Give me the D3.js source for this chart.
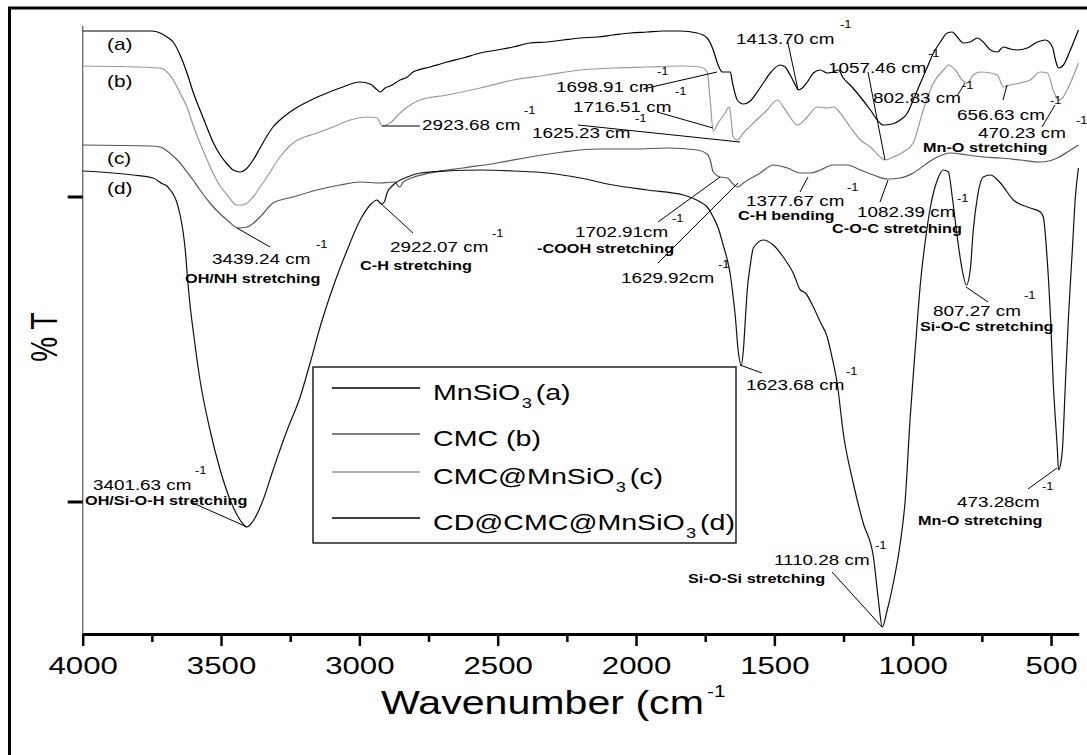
<!DOCTYPE html>
<html lang="en">
<head>
<meta charset="UTF-8">
<title>FTIR spectra</title>
<script src="https://d3js.org/d3.v7.min.js"></script>
<style>
  body { margin: 0; background: #fff; }
  svg { display: block; font-family: "Liberation Sans", Arial, sans-serif; }
</style>
</head>
<body>
<div id="viz"></div>
<script>
// spectra: [wavenumber (cm-1), %T in arbitrary units]
var specA = [[4000,603],[3865,603],[3749,603],[3720,601],[3695,597],[3673,592],[3648,579],[3623,561],[3601,542],[3576,524],[3550,506],[3529,492],[3503,479],[3478,470],[3456,464],[3431,462],[3409,465],[3384,474],[3359,486],[3334,498],[3312,507],[3287,514],[3240,524],[3167,535],[3117,541],[3070,546],[2997,552],[2961,550],[2939,545],[2925,542],[2907,546],[2889,548],[2853,554],[2827,557],[2806,562],[2744,567],[2683,572],[2625,576],[2563,581],[2502,584],[2444,587],[2383,591],[2321,592],[2263,594],[2202,596],[2140,597],[2083,599],[2021,601],[1960,602],[1902,603],[1840,603],[1779,601],[1743,596],[1721,584],[1706,571],[1688,562],[1659,562],[1652,552],[1634,534],[1612,530],[1587,533],[1562,542],[1540,551],[1515,561],[1479,569],[1461,567],[1443,559],[1424,549],[1414,544],[1399,546],[1381,552],[1359,561],[1334,564],[1309,561],[1287,562],[1269,564],[1251,556],[1226,549],[1189,537],[1153,524],[1128,514],[1106,509],[1074,510],[1045,514],[1019,521],[998,534],[972,551],[947,567],[925,581],[900,592],[875,601],[857,602],[839,597],[817,591],[792,592],[766,596],[745,592],[719,584],[694,582],[672,587],[647,585],[622,584],[586,586],[549,592],[520,594],[495,587],[484,574],[473,566],[455,569],[430,584],[401,604]];

var specB = [[4000,568],[3720,566],[3695,562],[3673,554],[3648,541],[3623,527],[3601,509],[3576,491],[3550,474],[3529,461],[3503,448],[3478,439],[3442,429],[3420,429],[3384,437],[3359,447],[3334,457],[3287,477],[3240,491],[3153,501],[3095,507],[3033,514],[2972,517],[2936,516],[2918,508],[2889,511],[2853,521],[2827,527],[2780,534],[2683,539],[2563,546],[2444,554],[2321,559],[2202,564],[2083,566],[1960,567],[1840,568],[1768,567],[1743,562],[1732,534],[1721,503],[1703,511],[1678,521],[1663,527],[1656,514],[1649,497],[1634,494],[1612,501],[1576,511],[1526,524],[1490,534],[1453,521],[1417,509],[1381,517],[1345,527],[1309,526],[1287,527],[1262,521],[1226,507],[1189,494],[1153,487],[1117,477],[1099,474],[1070,477],[1034,482],[998,491],[962,524],[925,551],[889,564],[871,569],[846,564],[821,554],[803,551],[781,559],[756,562],[719,561],[694,559],[672,547],[647,549],[611,551],[575,554],[539,562],[513,561],[492,544],[473,534],[459,536],[430,551],[401,571]];

var specC = [[4000,489],[3757,488],[3720,487],[3695,483],[3673,478],[3648,471],[3623,462],[3601,454],[3576,444],[3540,431],[3503,420],[3478,414],[3438,406],[3406,407],[3359,417],[3312,431],[3240,437],[3153,444],[3070,449],[2997,452],[2925,451],[2871,452],[2860,448],[2853,447],[2842,452],[2744,461],[2625,466],[2502,471],[2383,477],[2263,482],[2140,485],[2010,485],[1887,486],[1779,484],[1743,480],[1732,474],[1721,462],[1696,457],[1670,456],[1649,450],[1631,447],[1612,451],[1551,461],[1504,469],[1453,466],[1406,461],[1370,461],[1334,464],[1287,469],[1236,469],[1189,464],[1142,459],[1092,455],[1045,456],[998,461],[947,471],[911,477],[864,481],[803,479],[745,477],[683,476],[611,474],[539,472],[477,476],[441,482],[401,489]];

var specD = [[4000,463],[3937,462],[3818,459],[3746,456],[3710,450],[3695,448],[3684,444],[3673,440],[3659,431],[3648,419],[3637,402],[3630,386],[3619,349],[3612,329],[3601,304],[3576,254],[3540,204],[3503,164],[3467,134],[3431,114],[3406,107],[3384,113],[3348,134],[3312,164],[3261,204],[3214,237],[3178,271],[3142,307],[3095,347],[3044,384],[2997,414],[2961,429],[2936,434],[2921,430],[2910,432],[2900,441],[2878,449],[2827,457],[2780,461],[2683,463],[2563,464],[2444,463],[2321,461],[2202,456],[2083,449],[1960,444],[1829,439],[1768,432],[1743,427],[1721,417],[1703,406],[1685,389],[1670,374],[1659,359],[1649,337],[1641,317],[1631,284],[1620,269],[1612,284],[1605,314],[1598,344],[1587,369],[1576,386],[1540,394],[1504,389],[1468,377],[1432,361],[1406,344],[1388,341],[1359,327],[1334,312],[1309,297],[1291,276],[1273,251],[1251,201],[1215,151],[1179,111],[1142,77],[1124,34],[1110,7],[1092,24],[1070,51],[1045,91],[1027,134],[1009,217],[991,284],[972,351],[954,394],[936,427],[911,454],[889,464],[871,462],[857,437],[839,397],[821,364],[806,349],[792,364],[781,404],[766,437],[745,457],[719,459],[683,451],[636,434],[575,426],[539,422],[528,417],[513,371],[502,317],[492,251],[477,184],[473,164],[466,169],[459,184],[448,251],[437,317],[423,384],[412,437],[401,466]];

var curveTags = ["(a)", "(b)", "(c)", "(d)"];
var curveColors = ["#000", "#999", "#555", "#111"];
var legendNames = [["MnSiO", "3", "(a)"], ["CMC (b)"], ["CMC@MnSiO", "3", "(c)"], ["CD@CMC@MnSiO", "3", "(d)"]];
var legendColors = ["#000", "#555", "#999", "#000"];
var majorTicks = [4000, 3500, 3000, 2500, 2000, 1500, 1000, 500];
var minorTicks = [3750, 3250, 2750, 2250, 1750, 1250, 750];
var yTicks = [132, 437];

// peak labels: text, text pos, superscript pos, leader line (pixels)
var notes = [
  {t: "1413.70 cm", x: 736, y: 44, sx: 840, sy: 28, l: [788, 43, 798, 90]},
  {t: "1698.91 cm", x: 556, y: 92, sx: 657, sy: 75, l: [643, 89, 717, 72]},
  {t: "1716.51 cm", x: 573, y: 112, sx: 675, sy: 95, l: [657, 112, 713, 128]},
  {t: "1625.23 cm", x: 532, y: 138, sx: 635, sy: 122, l: [578, 125, 740, 142]},
  {t: "2923.68 cm", x: 422, y: 130, sx: 524, sy: 114, l: [382, 126, 420, 126]},
  {t: "1057.46 cm", x: 828, y: 73, sx: 928, sy: 57, l: [868, 72, 885, 160]},
  {t: "802.83 cm", x: 873, y: 103, sx: 962, sy: 89, l: [957, 96, 965, 83]},
  {t: "656.63 cm", x: 957, y: 120, sx: 1050, sy: 104, l: [1003, 100, 1007, 85]},
  {t: "470.23 cm", x: 978, y: 138, sx: 1076, sy: 124, l: [1042, 127, 1055, 105]},
  {t: "3439.24 cm", x: 212, y: 264, sx: 316, sy: 248, l: [237, 228, 270, 247]},
  {t: "2922.07 cm", x: 390, y: 252, sx: 492, sy: 237, l: [377, 200, 413, 233]},
  {t: "1702.91cm", x: 575, y: 237, sx: 672, sy: 222, l: [658, 222, 720, 177]},
  {t: "1629.92cm", x: 621, y: 283, sx: 718, sy: 268, l: [658, 263, 738, 183]},
  {t: "1377.67 cm", x: 746, y: 206, sx: 847, sy: 191, l: [800, 192, 808, 177]},
  {t: "1082.39 cm", x: 857, y: 217, sx: 957, sy: 202, l: [880, 202, 888, 180]},
  {t: "807.27 cm", x: 933, y: 316, sx: 1024, sy: 299, l: [966, 287, 988, 302]},
  {t: "1623.68 cm", x: 746, y: 390, sx: 846, sy: 375, l: [740, 365, 762, 373]},
  {t: "1110.28 cm", x: 774, y: 565, sx: 875, sy: 549, l: [832, 572, 882, 627]},
  {t: "473.28cm", x: 957, y: 507, sx: 1042, sy: 490, l: [1028, 489, 1057, 468]},
  {t: "3401.63 cm", x: 93, y: 490, sx: 195, sy: 474, l: [193, 503, 247, 527]}
];
var captions = [
  {t: "Mn-O stretching", x: 923, y: 152},
  {t: "OH/NH stretching", x: 185, y: 283},
  {t: "C-H stretching", x: 360, y: 270},
  {t: "-COOH stretching", x: 537, y: 253},
  {t: "C-H bending", x: 738, y: 220},
  {t: "C-O-C stretching", x: 832, y: 233},
  {t: "Si-O-C stretching", x: 920, y: 331},
  {t: "Si-O-Si stretching", x: 688, y: 583},
  {t: "Mn-O stretching", x: 918, y: 525},
  {t: "OH/Si-O-H stretching", x: 85, y: 505}
];

var W = 1087, H = 755, S = 1.3; // S: horizontal text stretch of the original
var svg = d3.select("#viz").append("svg").attr("width", W).attr("height", H);
svg.append("rect").attr("width", W).attr("height", H).attr("fill", "#fff");

// frame (left + top only visible)
svg.append("path").attr("d", "M9.5,760V8H1095").attr("fill", "none")
  .attr("stroke", "#000").attr("stroke-width", 3);

var x = d3.scaleLinear().domain([4000, 400]).range([82.7, 1078.7]);
var y = d3.scaleLinear().domain([0, 608]).range([634, 26]);

function stext(px, py, str, size, sx) {
  return svg.append("text")
    .attr("transform", "translate(" + px + "," + py + ") scale(" + (sx || S) + ",1)")
    .attr("font-size", size).attr("fill", "#000").text(str);
}

// y axis: thin grey line, heavy ticks
svg.append("line").attr("x1", x(4000)).attr("x2", x(4000)).attr("y1", 26).attr("y2", 634)
  .attr("stroke", "#666").attr("stroke-width", 1.3);
svg.selectAll(".ytick").data(yTicks).enter().append("line")
  .attr("x1", x(4000) - 15).attr("x2", x(4000))
  .attr("y1", d => y(d)).attr("y2", d => y(d))
  .attr("stroke", "#000").attr("stroke-width", 3);

// spectra
var line = d3.line().x(d => x(d[0])).y(d => y(d[1])).curve(d3.curveMonotoneX);
[specA, specB, specC, specD].forEach(function(s, i) {
  svg.append("path").datum(s).attr("d", line).attr("fill", "none")
    .attr("stroke", curveColors[i]).attr("stroke-width", 1.2);
});

// x axis
var gx = svg.append("g").attr("transform", "translate(0," + y(0) + ")")
  .call(d3.axisBottom(x).tickValues(majorTicks).tickSize(12).tickSizeOuter(0).tickFormat(d3.format("d")));
gx.select(".domain").attr("stroke-width", 3);
gx.selectAll(".tick line").attr("stroke-width", 2.5);
gx.selectAll(".tick text").attr("y", 40).attr("dy", 0)
  .attr("font-size", 24).attr("font-family", "Liberation Sans, Arial, sans-serif")
  .attr("transform", "scale(" + S + ",1)");
svg.append("g").attr("transform", "translate(0," + y(0) + ")")
  .call(d3.axisBottom(x).tickValues(minorTicks).tickSize(8).tickSizeOuter(0).tickFormat(""))
  .call(g => g.select(".domain").remove())
  .selectAll(".tick line").attr("stroke-width", 2.5);

// axis titles
stext(381, 714, "Wavenumber (cm", 34, 1.21);
stext(707, 697, "-1", 16);
svg.append("text").attr("transform", "translate(57,337) scale(" + S + ",1) rotate(-90)")
  .attr("text-anchor", "middle").attr("font-size", 28).text("% T");

// curve tags
var tagY = [50, 87, 164, 194];
curveTags.forEach(function(t, i) { stext(107, tagY[i], t, 16); });

// annotations
notes.forEach(function(n) {
  svg.append("line").attr("x1", n.l[0]).attr("y1", n.l[1]).attr("x2", n.l[2]).attr("y2", n.l[3])
    .attr("stroke", "#000").attr("stroke-width", 1);
  stext(n.x, n.y, n.t, 14.5);
  stext(n.sx, n.sy, "-1", 10);
});
captions.forEach(function(c) {
  stext(c.x, c.y, c.t, 12.5).attr("font-weight", "bold");
});

// legend
svg.append("rect").attr("x", 313).attr("y", 367).attr("width", 423).attr("height", 176)
  .attr("fill", "#fff").attr("stroke", "#000").attr("stroke-width", 1.3);
var legY = [388, 434, 472, 518];
legendNames.forEach(function(nm, i) {
  svg.append("line").attr("x1", 332).attr("x2", 420).attr("y1", legY[i]).attr("y2", legY[i])
    .attr("stroke", legendColors[i]).attr("stroke-width", 1.5);
  var t = stext(433, legY[i] + 12, "", 22);
  t.append("tspan").text(nm[0]);
  if (nm.length > 1) {
    t.append("tspan").attr("font-size", 14).attr("dy", 8).attr("dx", 1).text(nm[1]);
    t.append("tspan").attr("dy", -8).attr("dx", 3).text(nm[2]);
  }
});
</script>
</body>
</html>
